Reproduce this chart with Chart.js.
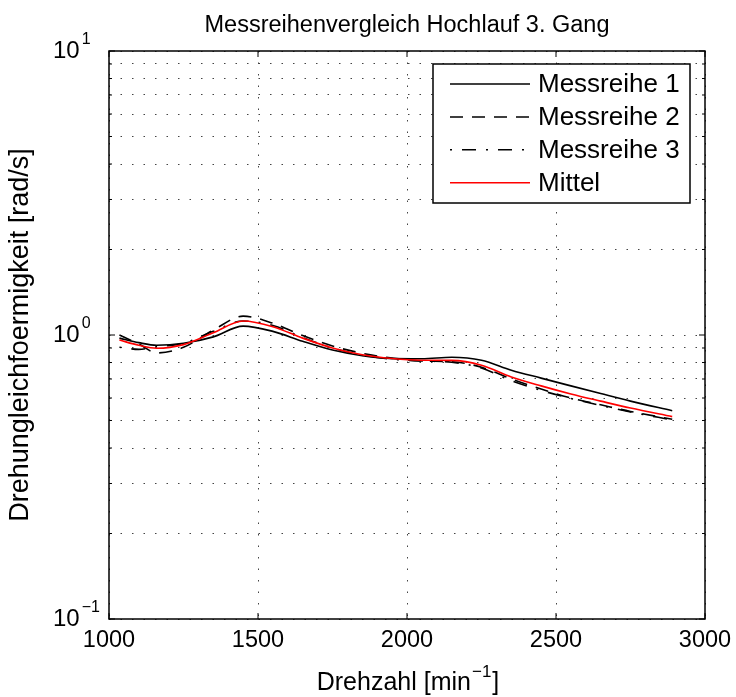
<!DOCTYPE html>
<html>
<head>
<meta charset="utf-8">
<script src="https://cdn.jsdelivr.net/npm/chart.js@4.4.0/dist/chart.umd.min.js"></script>
<style>
  html, body { margin: 0; padding: 0; background: #fff; }
  #wrap { width: 736px; height: 697px; }
</style>
</head>
<body>
<div id="wrap"><canvas id="chart" width="736" height="697"></canvas></div>
<script>
// Drehzahl-Stützstellen [1/min]
const drehzahl = [1035, 1100, 1160, 1250, 1350, 1450, 1550, 1650, 1750, 1850,
                  1950, 2050, 2150, 2250, 2350, 2450, 2550, 2650, 2750, 2890];

// Drehungleichförmigkeit [rad/s]
const messreihe1 = [0.975, 0.94, 0.92, 0.935, 0.985, 1.075, 1.03, 0.95, 0.885, 0.845,
                    0.826, 0.825, 0.835, 0.815, 0.752, 0.705, 0.662, 0.622, 0.585, 0.541];
const messreihe2 = [1.0, 0.93, 0.865, 0.905, 1.04, 1.165, 1.1, 0.995, 0.915, 0.862,
                    0.83, 0.81, 0.805, 0.77, 0.7, 0.645, 0.6, 0.568, 0.538, 0.505];
const messreihe3 = [0.905, 0.89, 0.909, 0.935, 1.03, 1.12, 1.08, 0.98, 0.9, 0.849,
                    0.822, 0.81, 0.802, 0.765, 0.69, 0.638, 0.598, 0.565, 0.536, 0.502];
const mittel     = [0.96, 0.92, 0.898, 0.925, 1.018, 1.12, 1.07, 0.975, 0.9, 0.852,
                    0.826, 0.815, 0.814, 0.783, 0.712, 0.662, 0.62, 0.585, 0.553, 0.516];

// Achsen
const xTicks = [1000, 1500, 2000, 2500, 3000];
const yMajor = [0.1, 1, 10];
const yExp   = ['\u22121', '0', '1'];
const yGrid  = [0.1, 0.2, 0.3, 0.4, 0.5, 0.6, 0.7, 0.8, 0.9,
                1, 2, 3, 4, 5, 6, 7, 8, 9, 10];

const titel  = 'Messreihenvergleich Hochlauf 3. Gang';
const yTitel = 'Drehungleichfoermigkeit [rad/s]';
const FONT = '"Liberation Sans", Arial, Helvetica, sans-serif';

const reihen = [
  { label: 'Messreihe 1', werte: messreihe1, farbe: '#000', dash: [] },
  { label: 'Messreihe 2', werte: messreihe2, farbe: '#000', dash: [13, 9] },
  { label: 'Messreihe 3', werte: messreihe3, farbe: '#000', dash: [2, 10, 14, 10] },
  { label: 'Mittel',      werte: mittel,     farbe: '#ff0000', dash: [] }
];

// eigenes Zeichnen: Rahmen, Ticks, Beschriftung, Legende
const matlabDeko = {
  id: 'matlabDeko',
  afterDraw(chart) {
    const { ctx, chartArea: a, scales: { x, y } } = chart;
    ctx.save();

    // Rahmen
    ctx.strokeStyle = '#000';
    ctx.lineWidth = 1.5;
    ctx.strokeRect(a.left, a.top, a.right - a.left, a.bottom - a.top);

    // Ticks nach innen
    ctx.lineWidth = 1;
    ctx.beginPath();
    xTicks.forEach(v => {
      const px = x.getPixelForValue(v);
      ctx.moveTo(px, a.bottom); ctx.lineTo(px, a.bottom - 6);
      ctx.moveTo(px, a.top);    ctx.lineTo(px, a.top + 6);
    });
    yGrid.forEach(v => {
      const py = y.getPixelForValue(v);
      const len = yMajor.includes(v) ? 6 : 3;
      ctx.moveTo(a.left, py);  ctx.lineTo(a.left + len, py);
      ctx.moveTo(a.right, py); ctx.lineTo(a.right - len, py);
    });
    ctx.stroke();

    ctx.fillStyle = '#000';
    // x-Ticklabels
    ctx.font = '23.5px ' + FONT;
    ctx.textAlign = 'center';
    ctx.textBaseline = 'middle';
    xTicks.forEach(v => ctx.fillText(String(v), x.getPixelForValue(v), 641));

    // y-Ticklabels 10^n
    yMajor.forEach((v, i) => {
      const py = y.getPixelForValue(v);
      ctx.font = '24px ' + FONT;
      ctx.textAlign = 'left';
      ctx.fillText('10', 53, py);
      const w = ctx.measureText('10').width;
      ctx.font = '16px ' + FONT;
      ctx.fillText(yExp[i], 53 + w + 2, py - 11);
    });

    // Titel
    ctx.font = '23.5px ' + FONT;
    ctx.textAlign = 'center';
    ctx.fillText(titel, (a.left + a.right) / 2, 26);

    // x-Achsentitel mit Exponent
    const t1 = 'Drehzahl [min', t2 = '\u22121', t3 = ']';
    ctx.font = '25px ' + FONT;
    const w1 = ctx.measureText(t1).width, w3 = ctx.measureText(t3).width;
    ctx.font = '17px ' + FONT;
    const w2 = ctx.measureText(t2).width;
    let sx = (a.left + a.right) / 2 - (w1 + w2 + w3) / 2;
    ctx.textAlign = 'left';
    ctx.font = '25px ' + FONT;
    ctx.fillText(t1, sx, 683);
    ctx.font = '17px ' + FONT;
    ctx.fillText(t2, sx + w1 + 1, 672);
    ctx.font = '25px ' + FONT;
    ctx.fillText(t3, sx + w1 + w2 + 2, 683);

    // y-Achsentitel
    ctx.save();
    ctx.translate(21, (a.top + a.bottom) / 2);
    ctx.rotate(-Math.PI / 2);
    ctx.textAlign = 'center';
    ctx.font = '27px ' + FONT;
    ctx.fillText(yTitel, 0, 0);
    ctx.restore();

    // Legende
    const lx = 433, ly = 64, lw = 257, lh = 139;
    ctx.fillStyle = '#fff';
    ctx.fillRect(lx, ly, lw, lh);
    ctx.strokeStyle = '#000';
    ctx.lineWidth = 1.5;
    ctx.strokeRect(lx, ly, lw, lh);
    reihen.forEach((r, i) => {
      const ry = 84 + i * 32.9;
      ctx.strokeStyle = r.farbe;
      ctx.lineWidth = 1.5;
      ctx.setLineDash(r.dash);
      ctx.beginPath();
      ctx.moveTo(450, ry); ctx.lineTo(530, ry);
      ctx.stroke();
      ctx.setLineDash([]);
      ctx.fillStyle = '#000';
      ctx.font = '26px ' + FONT;
      ctx.textAlign = 'left';
      ctx.fillText(r.label, 538, ry + 1);
    });

    ctx.restore();
  }
};

const gridStil = { color: '#444', lineWidth: 1, drawTicks: false };

new Chart(document.getElementById('chart'), {
  type: 'line',
  data: {
    datasets: reihen.map(r => ({
      label: r.label,
      data: drehzahl.map((d, i) => ({ x: d, y: r.werte[i] })),
      borderColor: r.farbe,
      borderWidth: 1.6,
      borderDash: r.dash,
      pointRadius: 0,
      fill: false,
      cubicInterpolationMode: 'monotone'
    })).reverse()
  },
  options: {
    responsive: false,
    animation: false,
    layout: { padding: { left: 109, right: 31, top: 51, bottom: 78 } },
    plugins: { legend: { display: false }, title: { display: false }, tooltip: { enabled: false } },
    scales: {
      x: {
        type: 'linear', min: 1000, max: 3000,
        ticks: { display: false, stepSize: 500 },
        grid: gridStil,
        border: { display: false, dash: [1.5, 10] },
        afterFit: s => { s.height = 0; }
      },
      y: {
        type: 'logarithmic', min: 0.1, max: 10,
        afterBuildTicks: s => { s.ticks = yGrid.map(v => ({ value: v })); },
        ticks: { display: false },
        grid: gridStil,
        border: { display: false, dash: [1.5, 10] },
        afterFit: s => { s.width = 0; }
      }
    }
  },
  plugins: [matlabDeko]
});
</script>
</body>
</html>
